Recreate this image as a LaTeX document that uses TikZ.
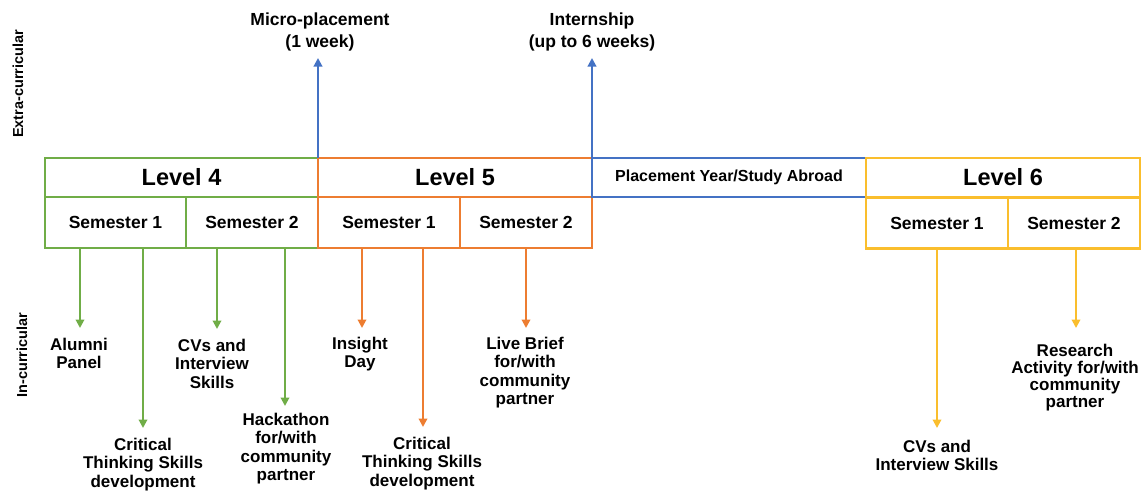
\documentclass[tikz,border=0pt]{standalone}
\usepackage{fontspec}
\setmainfont{Liberation Sans}
\usetikzlibrary{arrows.meta}
\definecolor{lvgreen}{RGB}{112,173,71}
\definecolor{lvorange}{RGB}{237,125,49}
\definecolor{lvblue}{RGB}{68,114,196}
\definecolor{lvyellow}{RGB}{250,190,45}
\begin{document}
\begin{tikzpicture}[x=1pt,y=-1pt,
  cell/.style={draw, line width=2.2pt, inner sep=0pt, outer sep=0pt},
  levelbox/.style={cell, minimum height=39pt, font=\fontsize{23.5}{25}\selectfont\bfseries},
  sembox/.style={cell, minimum height=51pt, font=\fontsize{17.5}{19}\selectfont\bfseries},
  lab/.style={align=center, inner sep=0pt, anchor=north, font=\fontsize{17}{18.3}\selectfont\bfseries},
  side/.style={rotate=90, inner sep=0pt, font=\fontsize{14.5}{16}\selectfont\bfseries},
  arr/.style={line width=2pt, -{Triangle[width=8.5pt,length=8.5pt]}}
]
\useasboundingbox (0,0) rectangle (1145,490);

% side captions
\node[side] (extra) at (18,84) {Extra-curricular};
\node[side] (incur) at (22,355) {In-curricular};

% Level 4
\node[levelbox, draw=lvgreen, minimum width=273pt] (l4) at (181.5,177.5) {Level 4};
\node[sembox, draw=lvgreen, minimum width=141pt] (l4s1) at (115.5,222.5) {Semester 1};
\node[sembox, draw=lvgreen, minimum width=132pt] (l4s2) at (252,222.5) {Semester 2};

% Level 5
\node[levelbox, draw=lvorange, minimum width=274pt] (l5) at (455,177.5) {Level 5};
\node[sembox, draw=lvorange, minimum width=142pt] (l5s1) at (389,222.5) {Semester 1};
\node[sembox, draw=lvorange, minimum width=132pt] (l5s2) at (526,222.5) {Semester 2};

% placement year
\node[cell, draw=lvblue, minimum width=274pt, minimum height=39pt,
      font=\fontsize{16}{18}\selectfont\bfseries] (py) at (729,177.5) {Placement Year/Study Abroad};

% Level 6
\node[levelbox, draw=lvyellow, minimum width=274pt] (l6) at (1003,177.5) {Level 6};
\node[sembox, draw=lvyellow, minimum width=142pt] (l6s1) at (937,223) {Semester 1};
\node[sembox, draw=lvyellow, minimum width=132pt] (l6s2) at (1074,223) {Semester 2};

% extra-curricular placements
\node[lab, font=\fontsize{17.5}{22}\selectfont\bfseries] (micro) at (320,13) {Micro-placement\\(1 week)};
\node[lab, font=\fontsize{17.5}{22}\selectfont\bfseries] (intern) at (592,13) {Internship\\(up to 6 weeks)};
\coordinate (microtip) at (318,58);
\coordinate (interntip) at (592,58);
\draw[arr, lvblue] (l5.north west) -- (l5.north west |- microtip);
\draw[arr, lvblue] (l5.north east) -- (l5.north east |- interntip);

% in-curricular activities, Level 4
\coordinate (g1) at (80,328);
\coordinate (g2) at (143,428);
\coordinate (g3) at (217,329);
\coordinate (g4) at (285,406);
\node[lab] (alumni) at (79,338) {Alumni\\Panel};
\node[lab] (crit4) at (143,438) {Critical\\Thinking Skills\\development};
\node[lab] (cv4) at (212,339) {CVs and\\Interview\\Skills};
\node[lab] (hack) at (286,413) {Hackathon\\for/with\\community\\partner};
\draw[arr, lvgreen] (l4s1.south -| g1) -- (g1);
\draw[arr, lvgreen] (l4s1.south -| g2) -- (g2);
\draw[arr, lvgreen] (l4s2.south -| g3) -- (g3);
\draw[arr, lvgreen] (l4s2.south -| g4) -- (g4);

% in-curricular activities, Level 5
\coordinate (o1) at (362,328);
\coordinate (o2) at (423,427);
\coordinate (o3) at (526,328);
\node[lab] (insight) at (360,337) {Insight\\Day};
\node[lab] (crit5) at (422,437) {Critical\\Thinking Skills\\development};
\node[lab] (live) at (525,337) {Live Brief\\for/with\\community\\partner};
\draw[arr, lvorange] (l5s1.south -| o1) -- (o1);
\draw[arr, lvorange] (l5s1.south -| o2) -- (o2);
\draw[arr, lvorange] (l5s2.south -| o3) -- (o3);

% in-curricular activities, Level 6
\coordinate (y1) at (937,428);
\coordinate (y2) at (1076,328);
\node[lab] (cv6) at (937,440) {CVs and\\Interview Skills};
\node[lab, font=\fontsize{17}{17}\selectfont\bfseries] (research) at (1075,344) {Research\\Activity for/with\\community\\partner};
\draw[arr, lvyellow] (l6s1.south -| y1) -- (y1);
\draw[arr, lvyellow] (l6s2.south -| y2) -- (y2);
\end{tikzpicture}
\end{document}
